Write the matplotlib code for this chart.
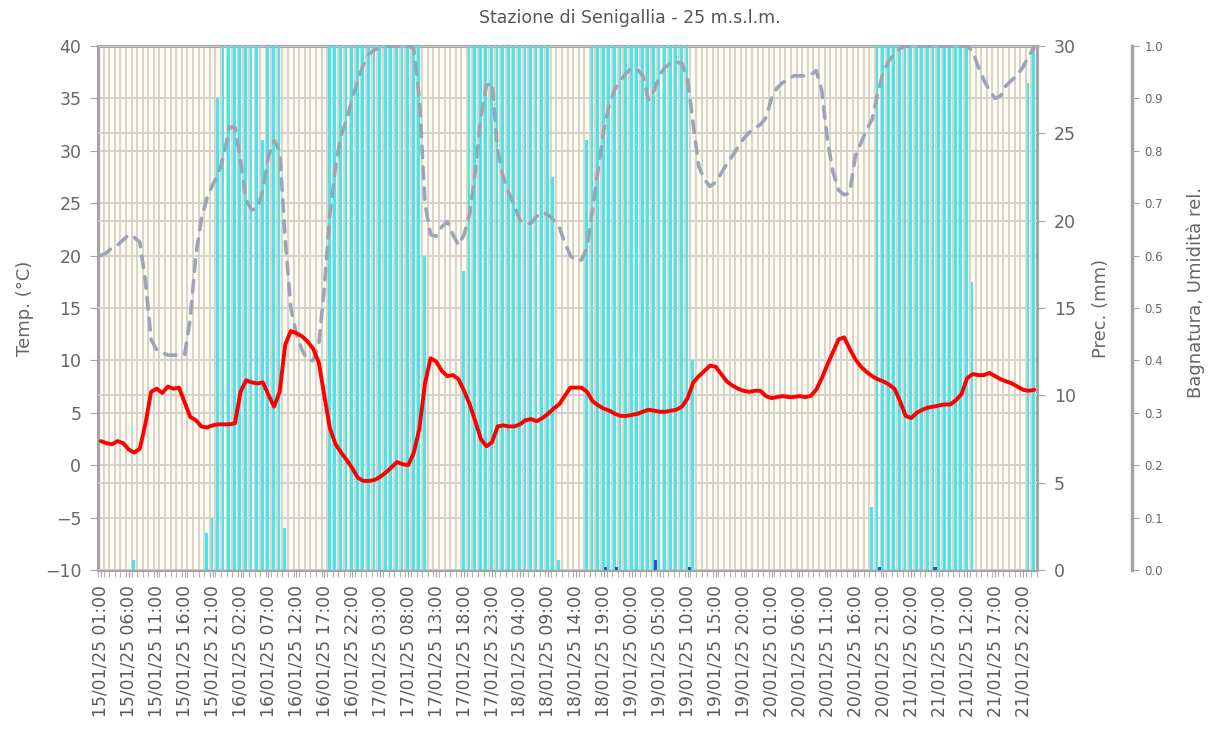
import matplotlib
matplotlib.use("Agg")
import matplotlib.pyplot as plt
import numpy as np
import pandas as pd
from matplotlib.ticker import MultipleLocator, FixedLocator

# ---------------- data ----------------
start_time = "2025-01-15 01:00"
n_hours = 168

temperature = [
    2.3, 2.1, 2.0, 2.3, 2.1, 1.5, 1.2, 1.6, 4.0, 7.0,
    7.3, 6.9, 7.5, 7.3, 7.4, 6.0, 4.6, 4.3, 3.7, 3.6,
    3.8, 3.9, 3.9, 3.9, 4.0, 7.0, 8.1, 7.9, 7.8, 7.9,
    6.7, 5.6, 7.0, 11.5, 12.8, 12.6, 12.3, 11.8, 11.1, 9.8,
    6.6, 3.5, 2.0, 1.2, 0.5, -0.3, -1.2, -1.5, -1.5, -1.4,
    -1.1, -0.7, -0.2, 0.3, 0.1, 0.0, 1.2, 3.5, 7.8, 10.2,
    9.9, 9.0, 8.5, 8.6, 8.2, 7.1, 5.8, 4.2, 2.5, 1.8,
    2.2, 3.7, 3.8, 3.7, 3.7, 3.9, 4.3, 4.4, 4.2, 4.5,
    4.9, 5.4, 5.8, 6.6, 7.4, 7.4, 7.4, 7.0, 6.1, 5.7,
    5.4, 5.2, 4.9, 4.7, 4.7, 4.8, 4.9, 5.1, 5.3, 5.2,
    5.1, 5.1, 5.2, 5.3, 5.6, 6.4, 7.9, 8.5, 9.0, 9.5,
    9.4, 8.7, 8.0, 7.6, 7.3, 7.1, 7.0, 7.1, 7.1, 6.6,
    6.4, 6.5, 6.6, 6.5, 6.5, 6.6, 6.5, 6.6, 7.2, 8.3,
    9.6, 10.8, 12.0, 12.2, 11.1, 10.1, 9.4, 8.9, 8.5, 8.2,
    8.0, 7.7, 7.3, 6.1, 4.7, 4.5, 5.0, 5.3, 5.5, 5.6,
    5.7, 5.8, 5.8, 6.2, 6.8, 8.3, 8.7, 8.6, 8.6, 8.8,
    8.5, 8.2, 8.0, 7.8, 7.5, 7.2, 7.1, 7.2,
]

humidity = [
    0.600, 0.605, 0.615, 0.620, 0.630, 0.640, 0.635, 0.625, 0.550, 0.440,
    0.420, 0.415, 0.410, 0.410, 0.410, 0.410, 0.480, 0.600, 0.670, 0.710,
    0.735, 0.755, 0.790, 0.845, 0.845, 0.780, 0.706, 0.687, 0.690, 0.725,
    0.790, 0.820, 0.800, 0.630, 0.500, 0.450, 0.420, 0.400, 0.400, 0.430,
    0.540, 0.680, 0.770, 0.830, 0.860, 0.900, 0.935, 0.965, 0.985, 0.993,
    0.996, 1.000, 1.000, 1.000, 1.000, 1.000, 0.995, 0.900, 0.700, 0.640,
    0.637, 0.655, 0.665, 0.640, 0.620, 0.640, 0.680, 0.760, 0.865, 0.925,
    0.930, 0.800, 0.750, 0.720, 0.695, 0.668, 0.660, 0.662, 0.675, 0.683,
    0.678, 0.668, 0.655, 0.625, 0.600, 0.590, 0.592, 0.615, 0.690, 0.765,
    0.840, 0.890, 0.918, 0.935, 0.948, 0.958, 0.955, 0.943, 0.897, 0.915,
    0.945, 0.960, 0.967, 0.970, 0.966, 0.935, 0.850, 0.770, 0.745, 0.732,
    0.740, 0.757, 0.775, 0.790, 0.807, 0.823, 0.835, 0.843, 0.850, 0.863,
    0.900, 0.920, 0.930, 0.937, 0.943, 0.943, 0.943, 0.945, 0.953, 0.915,
    0.820, 0.760, 0.725, 0.716, 0.720, 0.790, 0.815, 0.840, 0.860, 0.910,
    0.950, 0.972, 0.985, 0.995, 1.000, 1.000, 1.000, 1.000, 1.000, 1.000,
    1.000, 1.000, 1.000, 1.000, 1.000, 1.000, 0.990, 0.960, 0.935, 0.915,
    0.900, 0.905, 0.925, 0.935, 0.945, 0.960, 0.980, 0.998,
]

wetness = [
    0, 0, 0, 0, 0, 0, 0.02, 0, 0, 0,
    0, 0, 0, 0, 0, 0, 0, 0, 0, 0.07,
    0.10, 0.90, 1, 1, 1, 1, 1, 1, 1, 0.82,
    1, 1, 1, 0.08, 0, 0, 0, 0, 0, 0,
    0, 1, 1, 1, 1, 1, 1, 1, 1, 1,
    1, 1, 1, 1, 1, 1, 1, 1, 0.60, 0,
    0, 0, 0, 0, 0, 0.57, 1, 1, 1, 1,
    1, 1, 1, 1, 1, 1, 1, 1, 1, 1,
    1, 0.75, 0.02, 0, 0, 0, 0, 0.82, 1, 1,
    1, 1, 1, 1, 1, 1, 1, 1, 1, 1,
    1, 1, 1, 1, 1, 1, 0.40, 0, 0, 0,
    0, 0, 0, 0, 0, 0, 0, 0, 0, 0,
    0, 0, 0, 0, 0, 0, 0, 0, 0, 0,
    0, 0, 0, 0, 0, 0, 0, 0, 0.12, 1,
    1, 1, 1, 1, 1, 1, 1, 1, 1, 1,
    1, 1, 1, 1, 1, 1, 0.55, 0, 0, 0,
    0, 0, 0, 0, 0, 0, 0.93, 1,
]

precipitation = [0.0] * n_hours
rain_hours = [90, 92, 99, 105, 139, 149]
rain_mm = [0.2, 0.2, 0.6, 0.2, 0.2, 0.2]
for h, v in zip(rain_hours, rain_mm):
    precipitation[h] = v

title = "Stazione di Senigallia - 25 m.s.l.m."

# ---------------- figure ----------------
W, H = 1227, 738
fig = plt.figure(figsize=(W / 100, H / 100), dpi=100)
fig.patch.set_facecolor("white")

L, R, T, B = 98, 1037, 46, 570
ax = fig.add_axes([L / W, 1 - B / H, (R - L) / W, (B - T) / H])

x = np.arange(n_hours)
times = pd.date_range(start_time, periods=n_hours, freq="h")
tick_idx = np.arange(0, n_hours, 5)
tick_labels = [times[i].strftime("%d/%m/%y %H:%M") for i in tick_idx]

grid_col = "#d5d1ca"
spine_col = "#a3a3a3"
txt_col = "#666666"

ax.set_facecolor("#fefbf1")
ax.set_xlim(-0.5, n_hours - 0.5)
ax.set_ylim(-10, 40)
ax.yaxis.set_major_locator(MultipleLocator(5))
ax.set_xticks(tick_idx)
ax.set_xticklabels(tick_labels, rotation=90, fontsize=12.3, color="#5a5a5a")
ax.xaxis.set_minor_locator(FixedLocator(np.arange(-0.5, n_hours, 1)))
ax.tick_params(axis="x", which="major", length=5, color=spine_col, pad=6)
ax.tick_params(axis="x", which="minor", length=5, color=spine_col)
ax.tick_params(axis="y", length=6, color=spine_col, labelsize=12.5,
               labelcolor=txt_col, pad=6)
ax.grid(True, axis="y", color=grid_col, lw=1.4)
ax.grid(True, axis="x", which="minor", color=grid_col, lw=1.3)
ax.set_axisbelow(True)
for s in ax.spines.values():
    s.set_color(spine_col)
    s.set_linewidth(2.2)

# precipitation axis (0-30 mm): ticks, labels and grid
axP = ax.twinx()
axP.set_ylim(0, 30)
axP.yaxis.set_major_locator(MultipleLocator(5))
axP.grid(True, axis="y", color=grid_col, lw=1.4)
axP.set_axisbelow(True)
axP.tick_params(axis="y", length=6, color=spine_col, labelsize=12.5,
                labelcolor=txt_col, pad=6)
for s in axP.spines.values():
    s.set_visible(False)

# wetness / humidity axis (0-1)
axW = ax.twinx()
axW.set_ylim(0, 1)
axW.spines["right"].set_position(("axes", (1132 - L) / (R - L)))
for k, s in axW.spines.items():
    s.set_visible(k == "right")
axW.spines["right"].set_color(spine_col)
axW.spines["right"].set_linewidth(2.5)
axW.yaxis.set_major_locator(MultipleLocator(0.1))
axW.yaxis.set_major_formatter(matplotlib.ticker.FormatStrFormatter("%.1f"))
axW.tick_params(axis="y", length=5, color=spine_col, labelsize=8.5,
                labelcolor=txt_col, pad=4)
axW.bar(x - 0.12, wetness, width=0.5, color="#45e6ed", linewidth=0,
        zorder=2)

# precipitation bars drawn above the wetness bars (same 0-30 mm scale)
axPb = ax.twinx()
axPb.set_ylim(axP.get_ylim())
axPb.axis("off")
axPb.bar(x + 0.25, precipitation, width=0.55, color="#2a4fd6", linewidth=0)

# relative humidity (0-1 scale) above bars
axH = ax.twinx()
axH.set_ylim(axW.get_ylim())
axH.axis("off")
axH.plot(x, humidity, color="#9ba5b3", lw=2.6, dashes=[3.2, 2.6],
         dash_capstyle="round")

# temperature on top (same scale as host axis)
axT = ax.twinx()
axT.set_ylim(ax.get_ylim())
axT.axis("off")
axT.plot(x, temperature, color="#ff0000", lw=2.8, solid_capstyle="round",
         solid_joinstyle="round")

# titles
fig.text(630 / W, 1 - 18 / H, title, ha="center", va="center",
         fontsize=12.5, color="#555555")
fig.text(25 / W, 1 - 308 / H, "Temp. (°C)", rotation=90, ha="center",
         va="center", fontsize=13, color=txt_col)
fig.text(1101 / W, 1 - 308 / H, "Prec. (mm)", rotation=90, ha="center",
         va="center", fontsize=13, color=txt_col)
fig.text(1196 / W, 1 - 292 / H, "Bagnatura, Umidità rel.", rotation=90,
         ha="center", va="center", fontsize=13, color=txt_col)

fig.savefig("out.png", dpi=100)
